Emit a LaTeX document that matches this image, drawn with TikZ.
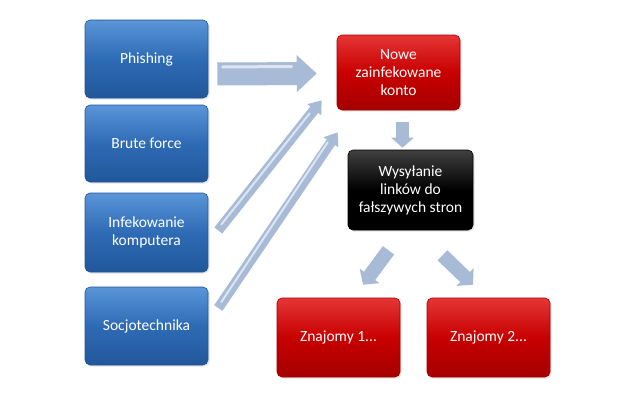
\documentclass[tikz,border=0pt]{standalone}
\usepackage{fontspec}
\setmainfont{Carlito}
\usetikzlibrary{arrows.meta,shadows}
\definecolor{bluetop}{HTML}{5A95D8}
\definecolor{bluemid}{HTML}{2E6BB5}
\definecolor{bluebot}{HTML}{21579A}
\definecolor{redtop}{HTML}{E53535}
\definecolor{redmid}{HTML}{C80000}
\definecolor{redbot}{HTML}{A50000}
\definecolor{arrowcol}{HTML}{A7BBD7}
\definecolor{arrowhi}{HTML}{DCE5F1}
\tikzset{
  box/.style={rounded corners=5pt, minimum width=123pt, align=center, text=white,
    font=\fontsize{15.5}{18}\selectfont, drop shadow={opacity=0.2, shadow xshift=1.5pt, shadow yshift=-1.5pt}},
  bluebox/.style={box, top color=bluetop, bottom color=bluebot, middle color=bluemid, draw=bluebot, line width=0.6pt},
  redbox/.style={box, top color=redtop, bottom color=redbot, middle color=redmid, draw=redbot, line width=0.6pt},
  blackbox/.style={box, top color=black!75, bottom color=black, middle color=black, draw=black, line width=0.6pt},
  bigarrow/.style={arrowcol, line width=23pt, -{Triangle[length=20pt, width=36pt]}},
  thinarrow/.style={arrowcol, line width=10pt, -{Triangle[length=12pt, width=17pt]}},
  midarrow/.style={arrowcol, line width=14pt, -{Triangle[length=11pt, width=24pt]}},
  glint/.style={arrowhi, line width=3pt, line cap=round}
}
\begin{document}
\begin{tikzpicture}[x=1pt, y=-1pt]
\useasboundingbox (0,0) rectangle (625,415);
\fill[white] (0,0) rectangle (625,415);
% left column
\node[bluebox, minimum height=78pt] (phish) at (146.5,59) {Phishing};
\node[bluebox, minimum height=77pt] (brute) at (146.5,143.5) {Brute force};
\node[bluebox, minimum height=79pt] (infek) at (146.5,232.5) {Infekowanie\\komputera};
\node[bluebox, minimum height=78pt] (socjo) at (146.5,326) {Socjotechnika};
% right part
\node[redbox, minimum height=75pt] (nowe) at (398.5,72.5) {Nowe\\zainfekowane\\konto};
\node[blackbox, minimum height=80pt, minimum width=125pt] (wys) at (410.5,190) {Wysyłanie\\linków do\\fałszywych stron};
\node[redbox, minimum height=79pt] (zn1) at (338.5,337.5) {Znajomy 1...};
\node[redbox, minimum height=79pt] (zn2) at (488.5,337.5) {Znajomy 2...};
% arrows
\draw[bigarrow] ([shift={(9,15)}]phish.east) -- ([shift={(-20,1)}]nowe.west);
\draw[glint] ([shift={(14,8)}]phish.east) -- ([shift={(-45,-6)}]nowe.west);
\draw[thinarrow] ([shift={(10,-2)}]infek.east) -- ([shift={(-15,-10)}]nowe.south west);
\draw[glint, line width=2pt] ([shift={(13,-8)}]infek.east) -- ([shift={(-27,3)}]nowe.south west);
\draw[thinarrow] ([shift={(10,-18)}]socjo.east) -- ([shift={(1,22)}]nowe.south west);
\draw[glint, line width=2pt] ([shift={(13,-24)}]socjo.east) -- ([shift={(-9,32)}]nowe.south west);
\draw[midarrow, line width=13pt, -{Triangle[length=10pt, width=22pt]}] ([shift={(4,12)}]nowe.south) -- ([shift={(-8,-2)}]wys.north);
\draw[midarrow] ([shift={(-22,20)}]wys.south) -- ([shift={(24.5,-13)}]zn1.north);
\draw[midarrow] ([shift={(32,25)}]wys.south) -- ([shift={(-15.5,-13)}]zn2.north);
\end{tikzpicture}
\end{document}
